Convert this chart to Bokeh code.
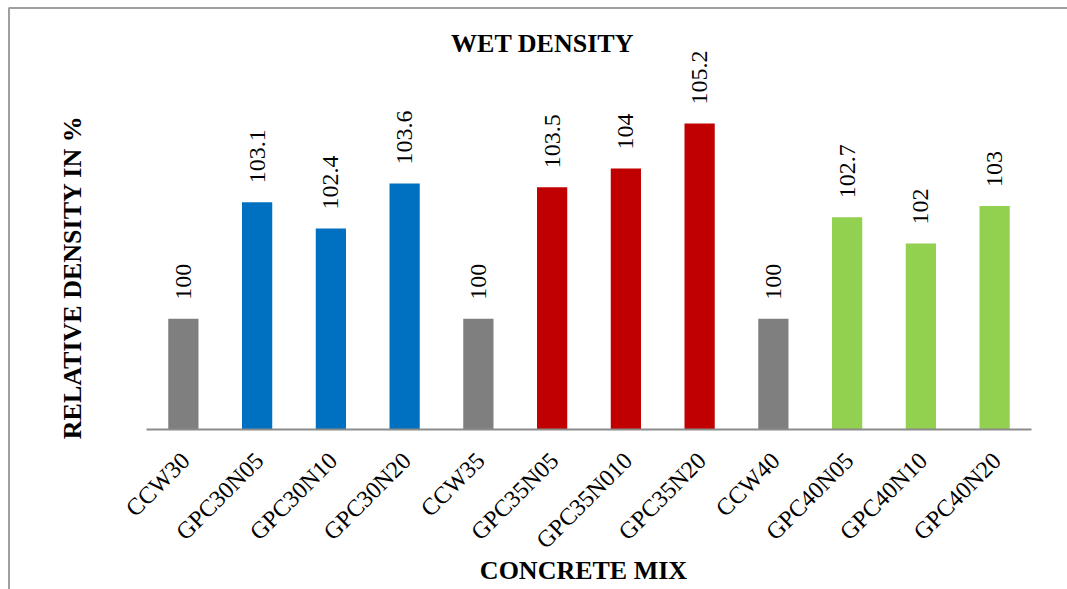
import math
from bokeh.plotting import figure
from bokeh.models import ColumnDataSource, Range1d
from bokeh.core.properties import value
from bokeh.embed import file_html
from bokeh.resources import INLINE

categories = ["CCW30", "GPC30N05", "GPC30N10", "GPC30N20", "CCW35", "GPC35N05",
              "GPC35N010", "GPC35N20", "CCW40", "GPC40N05", "GPC40N10", "GPC40N20"]
values = [100, 103.1, 102.4, 103.6, 100, 103.5, 104, 105.2, 100, 102.7, 102, 103]
value_labels = ["100", "103.1", "102.4", "103.6", "100", "103.5", "104", "105.2",
                "100", "102.7", "102", "103"]
colors = ["#7F7F7F", "#0070C0", "#0070C0", "#0070C0",
          "#7F7F7F", "#C00000", "#C00000", "#C00000",
          "#7F7F7F", "#92D050", "#92D050", "#92D050"]

title_text = "WET DENSITY"
y_title = "RELATIVE DENSITY  IN %"
x_title = "CONCRETE MIX"

W, H = 1067, 589
# layout constants (pixels) of the plotting area
PL, PR = 146, 1031          # left / right of the category band
BASE_PX = 429               # baseline row
Y0 = 97.05                  # value at the baseline
PX_PER_UNIT = 37.56
n = len(categories)
cat_px = (PR - PL) / n


def dx(px):
    return (px - PL) / cat_px - 0.5


def dy(py):
    return Y0 + (BASE_PX - py) / PX_PER_UNIT


idx = list(range(n))
src = ColumnDataSource(dict(
    x=idx, val=values, lbl=value_labels, col=colors, cat=categories,
    ly=[v + 19 / PX_PER_UNIT for v in values],
    cx=[i - 7 / cat_px for i in idx],
    cy=[dy(447)] * n,
))

p = figure(x_range=Range1d(dx(0), dx(W)), y_range=Range1d(dy(H), dy(0)),
           width=W, height=H, output_backend="svg", toolbar_location=None,
           x_axis_type=None, y_axis_type=None, min_border=0)
p.outline_line_color = None
p.grid.grid_line_color = None
p.background_fill_color = "white"
p.border_fill_color = "white"

serif = value("Liberation Serif")

# outer chart-area border (left and top edges visible)
p.segment(x0=[dx(8.5), dx(8)], y0=[dy(7.5), dy(7.5)],
          x1=[dx(8.5), dx(W + 5)], y1=[dy(H + 5), dy(7.5)],
          line_color="#A0A0A0", line_width=2)

# bars
p.vbar(x="x", top="val", bottom=Y0, width=0.41, color="col", line_color=None, source=src)

# category axis line
p.segment(x0=[dx(PL)], y0=[Y0], x1=[dx(PR)], y1=[Y0], line_color="#8C8C8C", line_width=2)

# value labels
p.text(x="x", y="ly", text="lbl", source=src, angle=math.pi / 2,
       text_align="left", text_baseline="middle",
       text_font=serif, text_font_size="24px", text_color="black")

# category labels
p.text(x="cx", y="cy", text="cat", source=src, angle=math.pi / 4,
       text_align="right", text_baseline="top",
       text_font=serif, text_font_size="24px", text_color="black")

bold = dict(text_font=serif, text_font_style="bold", text_font_size="26px",
            text_color="black")
p.text(x=[dx(542)], y=[dy(43)], text=[title_text], text_align="center",
       text_baseline="alphabetic", **bold)
p.text(x=[dx(72)], y=[dy(273.5)], text=[y_title], angle=math.pi / 2,
       text_align="center", text_baseline="alphabetic", **bold)
p.text(x=[dx(583)], y=[dy(570)], text=[x_title], text_align="center",
       text_baseline="alphabetic", **bold)

open("out.html", "w").write(file_html(p, INLINE))
